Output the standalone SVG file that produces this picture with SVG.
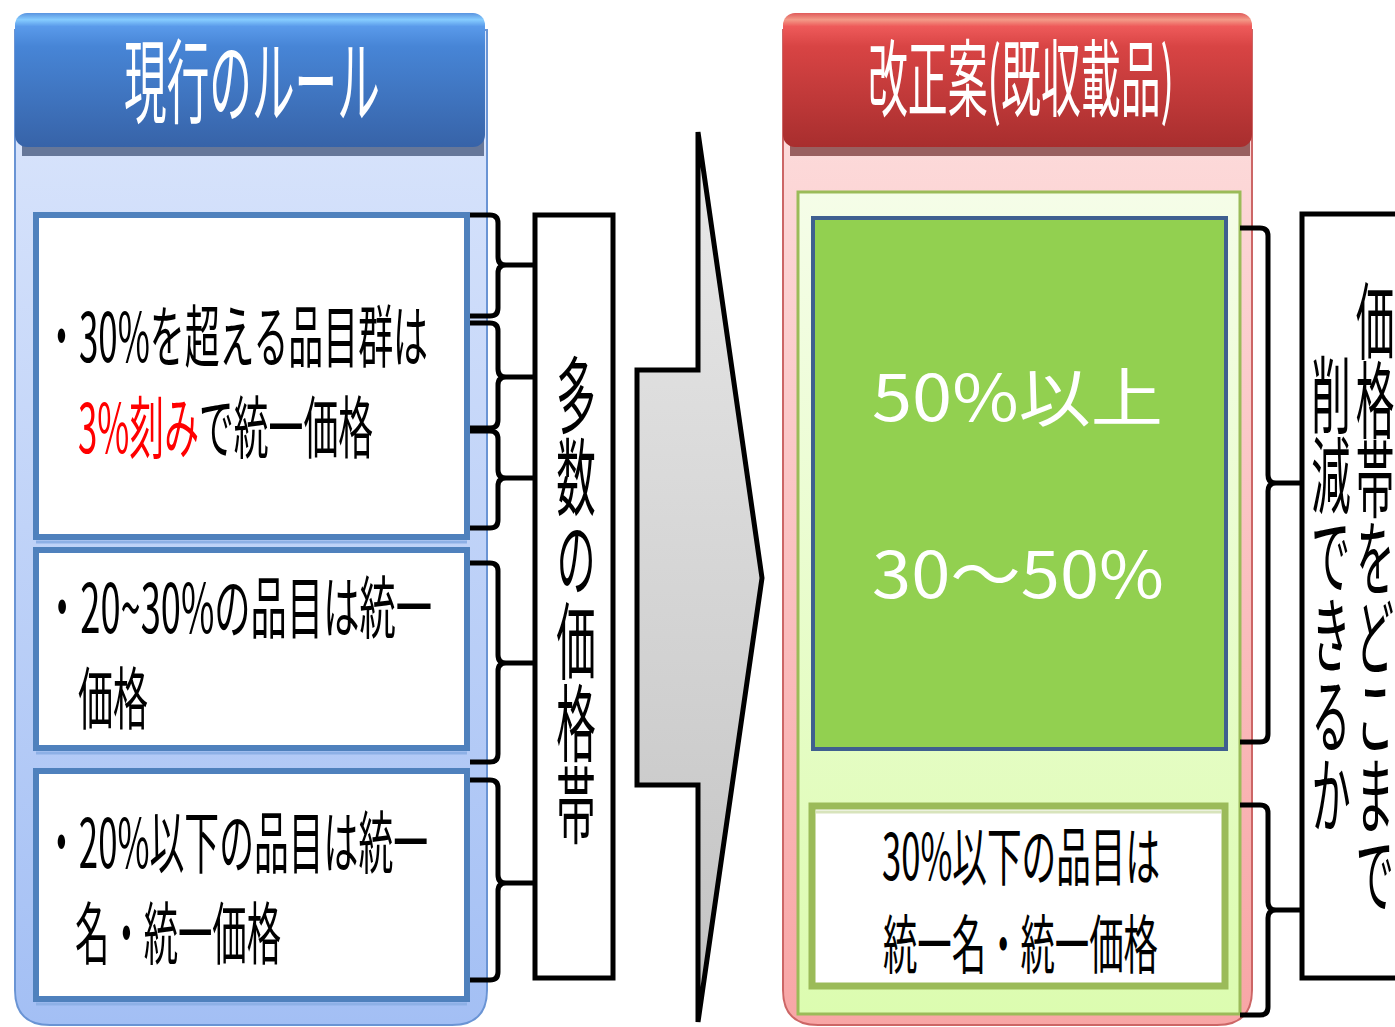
<svg xmlns="http://www.w3.org/2000/svg" width="1395" height="1027" viewBox="0 0 1395 1027">
<defs>
  <linearGradient id="gBluePanel" x1="0" y1="0" x2="0" y2="1">
    <stop offset="0" stop-color="#dde7fc"/>
    <stop offset="1" stop-color="#a3bff4"/>
  </linearGradient>
  <linearGradient id="gBlueHdr" x1="0" y1="0" x2="0" y2="1">
    <stop offset="0" stop-color="#5a94e0"/>
    <stop offset="0.05" stop-color="#86ccff"/>
    <stop offset="0.1" stop-color="#5a9aea"/>
    <stop offset="0.25" stop-color="#4785d6"/>
    <stop offset="1" stop-color="#3763a8"/>
  </linearGradient>
  <linearGradient id="gPinkPanel" x1="0" y1="0" x2="0" y2="1">
    <stop offset="0" stop-color="#fde0e0"/>
    <stop offset="1" stop-color="#f8a6a6"/>
  </linearGradient>
  <linearGradient id="gRedHdr" x1="0" y1="0" x2="0" y2="1">
    <stop offset="0" stop-color="#e05a5a"/>
    <stop offset="0.05" stop-color="#f39a88"/>
    <stop offset="0.1" stop-color="#ee5a5a"/>
    <stop offset="0.25" stop-color="#d84444"/>
    <stop offset="1" stop-color="#a82e2e"/>
  </linearGradient>
  <linearGradient id="gGreenPanel" x1="0" y1="0" x2="0" y2="1">
    <stop offset="0" stop-color="#f5fde8"/>
    <stop offset="1" stop-color="#dcfcb0"/>
  </linearGradient>
  <linearGradient id="gArrow" x1="0" y1="0" x2="0" y2="1">
    <stop offset="0" stop-color="#e9e9e9"/>
    <stop offset="1" stop-color="#c2c2c2"/>
  </linearGradient>
</defs>
<style>
  .jp{font-family:"Noto Sans CJK JP","Noto Sans CJK SC",sans-serif;}
  .body{font-size:68px;fill:#000;}
  .red{fill:#ff0000;}
  .hdr{fill:#fff;}
  .vt{font-size:84px;fill:#000;writing-mode:vertical-rl;}
  .box{fill:#fff;stroke:#4f81bd;stroke-width:6;}
  .boxsh{fill:none;stroke:#8db0e6;stroke-width:3;}
  .br{fill:none;stroke:#000;stroke-width:5;stroke-linecap:butt;stroke-linejoin:round;}
  .big{font-size:64px;fill:#fff;}
  .rb{font-size:64px;fill:#000;}
</style>

<!-- Left panel -->
<g id="panel-current">
  <path d="M15,30 V990 Q15,1025 50,1025 H452 Q487,1025 487,990 V30 Z" fill="url(#gBluePanel)" stroke="#6a94d4" stroke-width="2"/>
  <rect x="22" y="138" width="462" height="18" fill="#667799"/>
  <rect x="15" y="13" width="470" height="134" rx="12" fill="url(#gBlueHdr)"/>
  <g transform="translate(124,116) scale(0.48,1)">
    <text class="jp hdr" x="0" y="0" font-size="92" textLength="533" lengthAdjust="spacingAndGlyphs">現行のルール</text>
  </g>
</g>

<g id="box-over30">
  <line class="boxsh" x1="36" y1="542" x2="467" y2="542"/>
  <rect class="box" x="36" y="215" width="431" height="322"/>
  <text class="jp body" x="44" y="362" textLength="384" lengthAdjust="spacingAndGlyphs">・30%を超える品目群は</text>
  <text class="jp body" x="78" y="453" textLength="295" lengthAdjust="spacingAndGlyphs"><tspan class="red">3%刻み</tspan>で統一価格</text>
</g>

<g id="box-20to30">
  <line class="boxsh" x1="36" y1="753" x2="467" y2="753"/>
  <rect class="box" x="36" y="550" width="431" height="198"/>
  <text class="jp body" x="44" y="633" textLength="388" lengthAdjust="spacingAndGlyphs">・20~30%の品目は統一</text>
  <text class="jp body" x="78" y="724" textLength="70" lengthAdjust="spacingAndGlyphs">価格</text>
</g>

<g id="box-under20">
  <line class="boxsh" x1="36" y1="1004" x2="467" y2="1004"/>
  <rect class="box" x="36" y="771" width="431" height="228"/>
  <text class="jp body" x="44" y="868" textLength="384" lengthAdjust="spacingAndGlyphs">・20%以下の品目は統一</text>
  <text class="jp body" x="75" y="959" textLength="206" lengthAdjust="spacingAndGlyphs">名・統一価格</text>
</g>

<g id="box-many-bands">
  <rect x="535" y="215" width="78" height="763" fill="#fff" stroke="#000" stroke-width="5"/>
  <g transform="translate(576,0) scale(0.47,1)">
    <text class="jp vt" x="0" y="353" letter-spacing="-2">多数の価格帯</text>
  </g>
</g>

<!-- Middle arrow -->
<g id="arrow">
  <polygon points="637,370 698,370 698,132 762,578 698,1022 698,785 637,785" fill="url(#gArrow)" stroke="#000" stroke-width="5" stroke-linejoin="miter"/>
</g>

<!-- Right panel -->
<g id="panel-revised">
  <path d="M783,30 V990 Q783,1025 818,1025 H1217 Q1252,1025 1252,990 V30 Z" fill="url(#gPinkPanel)" stroke="#cc6666" stroke-width="2"/>
  <rect x="790" y="138" width="460" height="18" fill="#996060"/>
  <rect x="783" y="13" width="469" height="134" rx="12" fill="url(#gRedHdr)"/>
  <g transform="translate(868,110) scale(0.476,1)">
    <text class="jp hdr" x="0" y="0" font-size="84" textLength="643" lengthAdjust="spacingAndGlyphs">改正案(既収載品)</text>
  </g>
  <rect x="798" y="192" width="442" height="822" fill="url(#gGreenPanel)" stroke="#9bbb59" stroke-width="3"/>
</g>

<g id="box-green">
  <rect x="813" y="218" width="413" height="531" fill="#92d050" stroke="#3f5f8f" stroke-width="4"/>
  <text class="jp big" x="872" y="421" textLength="291" lengthAdjust="spacingAndGlyphs">50%以上</text>
  <text class="jp big" x="872" y="598" textLength="292" lengthAdjust="spacingAndGlyphs">30～50%</text>
</g>

<g id="box-under30">
  <rect x="812" y="806" width="413" height="180" fill="#fff" stroke="#9bbb59" stroke-width="7"/>
  <line x1="816" y1="812" x2="1221" y2="812" stroke="#d8e4bc" stroke-width="3"/>
  <text class="jp rb" x="882" y="880" textLength="278" lengthAdjust="spacingAndGlyphs">30%以下の品目は</text>
  <text class="jp rb" x="883" y="968" textLength="275" lengthAdjust="spacingAndGlyphs">統一名・統一価格</text>
</g>

<g id="box-reduce">
  <rect x="1302" y="214" width="130" height="764" fill="#fff" stroke="#000" stroke-width="5"/>
  <g transform="translate(1375,0) scale(0.46,1)">
    <text class="jp vt" x="0" y="279" letter-spacing="-5">価格帯をどこまで</text>
  </g>
  <g transform="translate(1331,0) scale(0.47,1)">
    <text class="jp vt" x="0" y="353" letter-spacing="-4">削減できるか</text>
  </g>
</g>

<!-- Connectors (braces) -->
<g id="connectors" class="br">
  <path d="M470,215 H490 Q498,215 498,223 V257 Q498,265 506,265 H535 M506,265 Q498,265 498,273 V308 Q498,316 490,316 H470"/>
  <path d="M470,323 H490 Q498,323 498,331 V369 Q498,377 506,377 H535 M506,377 Q498,377 498,385 V420 Q498,428 490,428 H470"/>
  <path d="M470,431 H490 Q498,431 498,439 V470 Q498,478 506,478 H535 M506,478 Q498,478 498,486 V520 Q498,528 490,528 H470"/>
  <path d="M470,563 H490 Q498,563 498,571 V655 Q498,663 506,663 H535 M506,663 Q498,663 498,671 V754 Q498,762 490,762 H470"/>
  <path d="M470,780 H490 Q498,780 498,788 V875 Q498,883 506,883 H535 M506,883 Q498,883 498,891 V972 Q498,980 490,980 H470"/>
  <path d="M1240,228 H1260 Q1268,228 1268,236 V475 Q1268,483 1276,483 H1302 M1276,483 Q1268,483 1268,491 V734 Q1268,742 1260,742 H1240"/>
  <path d="M1240,805 H1260 Q1268,805 1268,813 V902 Q1268,910 1276,910 H1302 M1276,910 Q1268,910 1268,918 V1007 Q1268,1015 1260,1015 H1240"/>
</g>
</svg>
